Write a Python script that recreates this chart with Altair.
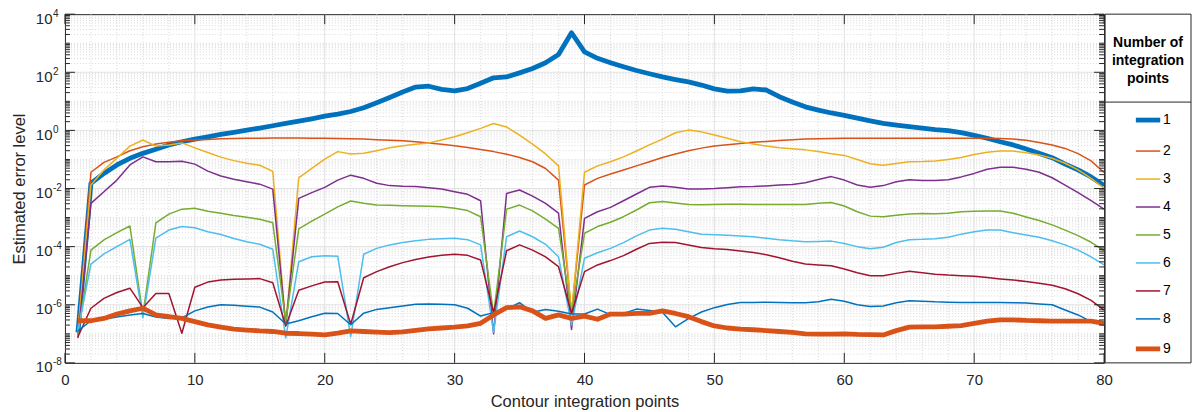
import altair as alt
import pandas as pd

# ---------------- data (log10 of estimated error) ----------------
x_points = list(range(1, 81))
series_names = ["1", "2", "3", "4", "5", "6", "7", "8", "9"]
series_colors = ["#0072BD", "#D95319", "#EDB120", "#7E2F8E", "#77AC30",
                 "#4DBEEE", "#A2142F", "#0072BD", "#D95319"]
series_widths = [4.8, 1.5, 1.5, 1.5, 1.5, 1.5, 1.5, 1.5, 4.8]

log_err_1 = [-6.95, -1.82, -1.48, -1.19, -0.96, -0.79, -0.65, -0.50, -0.39, -0.30,
             -0.22, -0.14, -0.07, 0.01, 0.08, 0.16, 0.24, 0.32, 0.40, 0.49,
             0.56, 0.65, 0.78, 0.95, 1.13, 1.32, 1.49, 1.52, 1.41, 1.36,
             1.44, 1.62, 1.81, 1.84, 1.98, 2.13, 2.33, 2.61, 3.36, 2.70,
             2.48, 2.33, 2.19, 2.06, 1.95, 1.84, 1.75, 1.67, 1.56, 1.43,
             1.35, 1.36, 1.43, 1.39, 1.16, 0.98, 0.81, 0.70, 0.60, 0.52,
             0.42, 0.33, 0.24, 0.18, 0.13, 0.08, 0.03, -0.01, -0.08, -0.17,
             -0.27, -0.39, -0.50, -0.64, -0.79, -0.94, -1.16, -1.36, -1.60, -1.90]
log_err_2 = [-7.00, -1.44, -1.10, -0.91, -0.70, -0.56, -0.47, -0.41, -0.36, -0.33,
             -0.31, -0.29, -0.28, -0.27, -0.27, -0.26, -0.26, -0.26, -0.27, -0.27,
             -0.28, -0.29, -0.30, -0.32, -0.34, -0.36, -0.39, -0.43, -0.48, -0.53,
             -0.59, -0.66, -0.73, -0.82, -0.93, -1.08, -1.31, -1.71, -6.30, -1.88,
             -1.65, -1.50, -1.36, -1.22, -1.08, -0.93, -0.81, -0.70, -0.61, -0.54,
             -0.49, -0.45, -0.41, -0.38, -0.35, -0.32, -0.30, -0.29, -0.28, -0.27,
             -0.27, -0.27, -0.27, -0.27, -0.27, -0.27, -0.27, -0.27, -0.27, -0.27,
             -0.27, -0.28, -0.30, -0.34, -0.42, -0.50, -0.62, -0.80, -1.05, -1.45]
log_err_3 = [-6.90, -1.88, -1.36, -0.96, -0.54, -0.33, -0.54, -0.50, -0.43, -0.60,
             -0.76, -0.92, -1.04, -1.13, -1.20, -1.41, -6.70, -1.63, -1.31, -0.99,
             -0.73, -0.81, -0.79, -0.70, -0.60, -0.53, -0.48, -0.43, -0.33, -0.22,
             -0.08, 0.07, 0.24, 0.12, -0.16, -0.47, -0.81, -1.22, -6.30, -1.44,
             -1.22, -1.08, -0.91, -0.71, -0.50, -0.30, -0.08, 0.01, -0.05, -0.16,
             -0.27, -0.39, -0.47, -0.54, -0.60, -0.63, -0.67, -0.73, -0.80, -0.86,
             -1.00, -1.15, -1.20, -1.14, -1.08, -1.07, -1.05, -1.00, -0.93, -0.83,
             -0.75, -0.71, -0.71, -0.77, -0.85, -0.96, -1.13, -1.36, -1.65, -1.99]
log_err_4 = [-7.15, -2.51, -2.11, -1.71, -1.19, -0.91, -1.08, -1.08, -1.06, -1.16,
             -1.40, -1.57, -1.68, -1.77, -1.85, -2.02, -6.70, -2.34, -2.14, -1.96,
             -1.71, -1.54, -1.65, -1.82, -1.90, -1.92, -1.93, -1.97, -2.02, -2.11,
             -2.20, -2.42, -7.00, -2.17, -2.05, -2.26, -2.51, -2.85, -6.85, -3.03,
             -2.80, -2.65, -2.42, -2.19, -1.96, -1.91, -1.96, -2.02, -2.02, -2.00,
             -1.97, -1.94, -1.93, -1.91, -1.88, -1.86, -1.80, -1.69, -1.59, -1.71,
             -1.88, -1.96, -1.90, -1.77, -1.70, -1.72, -1.72, -1.70, -1.60, -1.48,
             -1.34, -1.27, -1.27, -1.34, -1.44, -1.63, -1.88, -2.14, -2.42, -2.71]
log_err_5 = [-7.00, -4.12, -3.77, -3.52, -3.29, -6.35, -3.18, -2.88, -2.71, -2.68,
             -2.78, -2.85, -2.93, -2.99, -3.06, -3.18, -6.60, -3.39, -3.12, -2.88,
             -2.63, -2.43, -2.51, -2.57, -2.58, -2.59, -2.60, -2.61, -2.63, -2.68,
             -2.76, -2.97, -6.35, -2.71, -2.57, -2.77, -3.05, -3.37, -6.30, -3.54,
             -3.31, -3.16, -2.97, -2.74, -2.49, -2.45, -2.50, -2.55, -2.56, -2.55,
             -2.54, -2.54, -2.55, -2.55, -2.55, -2.55, -2.55, -2.51, -2.48, -2.60,
             -2.80, -2.95, -2.97, -2.92, -2.88, -2.86, -2.87, -2.85, -2.80, -2.78,
             -2.77, -2.77, -2.85, -2.98, -3.10, -3.25, -3.43, -3.62, -3.85, -4.14]
log_err_6 = [-6.90, -4.60, -4.25, -4.00, -3.75, -6.45, -3.71, -3.43, -3.31, -3.35,
             -3.49, -3.58, -3.72, -3.83, -3.92, -4.09, -7.14, -4.52, -4.35, -4.31,
             -4.33, -7.10, -4.26, -4.06, -3.94, -3.86, -3.80, -3.75, -3.73, -3.71,
             -3.76, -3.94, -6.95, -3.66, -3.46, -3.66, -3.92, -4.35, -6.70, -4.40,
             -4.21, -4.06, -3.86, -3.63, -3.43, -3.37, -3.40, -3.49, -3.57, -3.59,
             -3.61, -3.63, -3.66, -3.71, -3.76, -3.80, -3.83, -3.82, -3.81, -3.89,
             -4.00, -4.07, -4.02, -3.86, -3.76, -3.75, -3.73, -3.68, -3.57, -3.49,
             -3.43, -3.43, -3.52, -3.60, -3.68, -3.80, -3.94, -4.12, -4.35, -4.63]
log_err_7 = [-7.10, -6.12, -5.78, -5.58, -5.43, -6.10, -5.61, -5.61, -6.98, -5.40,
             -5.22, -5.15, -5.12, -5.11, -5.10, -5.24, -6.73, -5.50, -5.35, -5.22,
             -5.21, -6.67, -5.07, -4.86, -4.69, -4.55, -4.44, -4.36, -4.30, -4.26,
             -4.30, -4.46, -6.28, -4.14, -3.94, -4.12, -4.35, -4.69, -6.30, -4.86,
             -4.63, -4.48, -4.31, -4.09, -3.89, -3.85, -3.86, -3.94, -4.03, -4.07,
             -4.10, -4.15, -4.20, -4.28, -4.38, -4.50, -4.60, -4.63, -4.66, -4.77,
             -4.90, -5.00, -5.00, -4.92, -4.85, -4.90, -4.95, -4.98, -5.00, -5.02,
             -5.06, -5.11, -5.15, -5.20, -5.26, -5.33, -5.45, -5.62, -5.85, -6.18]
log_err_8 = [-6.90, -6.55, -6.50, -6.42, -6.35, -6.30, -6.42, -6.47, -6.45, -6.21,
             -6.08, -6.00, -6.02, -6.05, -6.08, -6.25, -6.66, -6.55, -6.41, -6.29,
             -6.30, -6.69, -6.29, -6.16, -6.10, -6.04, -5.98, -5.97, -5.98, -6.00,
             -6.12, -6.39, -6.27, -6.15, -5.93, -6.26, -6.16, -6.22, -6.32, -6.32,
             -6.15, -6.34, -6.30, -6.15, -6.20, -6.26, -6.76, -6.48, -6.25, -6.10,
             -5.99, -5.92, -5.92, -5.91, -5.92, -5.93, -5.93, -5.90, -5.81, -5.88,
             -6.00, -6.06, -6.04, -5.93, -5.86, -5.88, -5.90, -5.91, -5.92, -5.92,
             -5.92, -5.92, -5.93, -5.94, -5.97, -6.00, -6.18, -6.35, -6.58, -6.68]
log_err_9 = [-6.55, -6.55, -6.47, -6.32, -6.21, -6.12, -6.35, -6.41, -6.47, -6.58,
             -6.69, -6.77, -6.84, -6.87, -6.90, -6.92, -6.98, -6.99, -7.01, -7.04,
             -6.98, -6.90, -6.92, -6.94, -6.96, -6.93, -6.88, -6.83, -6.80, -6.77,
             -6.73, -6.64, -6.35, -6.10, -6.07, -6.21, -6.47, -6.35, -6.47, -6.39,
             -6.50, -6.32, -6.32, -6.30, -6.30, -6.21, -6.30, -6.41, -6.58, -6.73,
             -6.80, -6.84, -6.86, -6.89, -6.92, -6.95, -7.00, -7.01, -7.01, -7.00,
             -7.02, -7.03, -7.04, -6.89, -6.77, -6.76, -6.76, -6.74, -6.72, -6.64,
             -6.56, -6.52, -6.52, -6.54, -6.55, -6.56, -6.56, -6.56, -6.56, -6.64]

all_logs = [log_err_1, log_err_2, log_err_3, log_err_4, log_err_5,
            log_err_6, log_err_7, log_err_8, log_err_9]

x_tick_values = [0, 10, 20, 30, 40, 50, 60, 70, 80]
y_tick_exponents = [-8, -6, -4, -2, 0, 2, 4]

rows = []
for name, logs in zip(series_names, all_logs):
    for xv, lv in zip(x_points, logs):
        rows.append({"x": xv, "err": 10.0 ** lv, "series": name})
df = pd.DataFrame(rows)

# ---------------- styling / layout ----------------
W, H = 1040, 349
FONT = "Liberation Sans"
INK = "#262626"

y_major = [10.0 ** e for e in y_tick_exponents]
x_minor = [v for v in range(2, 80, 2) if v % 10 != 0]
y_minor = []
for e in range(-8, 4):
    for k in range(1, 10):
        if k == 1 and e % 2 == 0:
            continue
        y_minor.append(k * 10.0 ** e)

xs = alt.Scale(domain=[0, 80], nice=False, zero=False)
ys = alt.Scale(type="log", domain=[1e-8, 1e4], nice=False)

X_AXIS = alt.Axis(
    values=x_tick_values, ticks=False, domain=False, grid=False,
    labelPadding=10, labelFontSize=15, labelColor=INK, labelFont=FONT,
    labelFlush=False, labelOverlap=False, format="d",
    title="Contour integration points", titleFontSize=16.5,
    titleFontWeight="normal", titleColor=INK, titleFont=FONT, titlePadding=6)
Y_AXIS = alt.Axis(
    values=y_major, labelExpr="'10'", ticks=False, domain=False, grid=False,
    labelPadding=13, labelFontSize=15, labelColor=INK, labelFont=FONT,
    labelOffset=4, labelBaseline="middle", labelOverlap=False,
    title="Estimated error level", titleFontSize=16.5, titleFontWeight="normal",
    titleColor=INK, titleFont=FONT, titlePadding=8)


def xframe(vals):
    return pd.DataFrame({"gx": vals})


def yframe(vals):
    return pd.DataFrame({"gy": vals})


def xrule(vals, y0, y1, **style):
    return alt.Chart(xframe(vals)).mark_rule(**style).encode(
        x=alt.X("gx:Q", scale=xs, axis=X_AXIS), y=alt.value(y0), y2=alt.value(y1))


def yrule(vals, x0, x1, **style):
    return alt.Chart(yframe(vals)).mark_rule(**style).encode(
        y=alt.Y("gy:Q", scale=ys, axis=Y_AXIS), x=alt.value(x0), x2=alt.value(x1))


minor_style = dict(color="#cfcfcf", strokeWidth=0.8, strokeDash=[1, 2])
major_style = dict(color="#e2e2e2", strokeWidth=1)
tick_style = dict(color=INK, strokeWidth=1)

minor_x_grid = xrule(x_minor, 0, H, **minor_style)
minor_y_grid = yrule(y_minor, 0, W, **minor_style)
major_x_grid = xrule(x_tick_values[1:-1], 0, H, **major_style)
major_y_grid = yrule(y_major[1:-1], 0, W, **major_style)

ticks = [
    xrule(x_tick_values, H, H - 10, **tick_style),
    xrule(x_tick_values, 0, 10, **tick_style),
    yrule(y_major, 0, 10, **tick_style),
    yrule(y_major, W, W - 10, **tick_style),
    yrule(y_minor, 0, 5, **tick_style),
    yrule(y_minor, W, W - 5, **tick_style),
]

legend = alt.Legend(
    title=["Number of", "integration", "points"],
    orient="none", legendX=1048, legendY=22, padding=0,
    symbolType="stroke", symbolSize=595, symbolOffset=7,
    labelFont=FONT, labelFontSize=14, labelColor="#000000", labelOffset=0,
    titleFont=FONT, titleFontSize=14, titleFontWeight="bold", titleColor="#000000",
    titleAnchor="middle", titleAlign="center", titleLineHeight=18,
    titlePadding=19, rowPadding=8,
)

lines = alt.Chart(df).mark_line(strokeJoin="round").encode(
    x=alt.X("x:Q", scale=xs, axis=X_AXIS),
    y=alt.Y("err:Q", scale=ys, axis=Y_AXIS),
    color=alt.Color("series:N", scale=alt.Scale(domain=series_names, range=series_colors),
                    legend=legend),
    strokeWidth=alt.StrokeWidth("series:N",
                                scale=alt.Scale(type="ordinal", domain=series_names, range=series_widths),
                                legend=legend),
)

exp_df = pd.DataFrame({"gy": y_major, "t": [str(e) for e in y_tick_exponents]})
exponents = alt.Chart(exp_df).mark_text(
    align="left", baseline="middle", dy=-0.5, fontSize=10, font=FONT, color=INK
).encode(y=alt.Y("gy:Q", scale=ys, axis=Y_AXIS), x=alt.value(-12), text="t:N")

one = alt.Data(values=[{"k": 0}])
legend_box = alt.Chart(one).mark_rect(fillOpacity=0, stroke=INK, strokeWidth=1).encode(
    x=alt.value(W + 1), x2=alt.value(W + 87), y=alt.value(0), y2=alt.value(H))
legend_div = alt.Chart(one).mark_rule(color=INK, strokeWidth=1).encode(
    x=alt.value(W + 1), x2=alt.value(W + 87), y=alt.value(88))

chart = alt.layer(
    minor_x_grid, minor_y_grid, major_x_grid, major_y_grid, lines,
    *ticks, exponents, legend_box, legend_div,
).properties(
    width=W, height=H,
    padding={"left": 57, "top": 6, "right": 88, "bottom": 50},
    autosize=alt.AutoSizeParams(type="none"),
    background="white",
).configure_view(stroke=INK, strokeWidth=1)

chart.save("out.html", embed_options={"renderer": "svg", "actions": False})
